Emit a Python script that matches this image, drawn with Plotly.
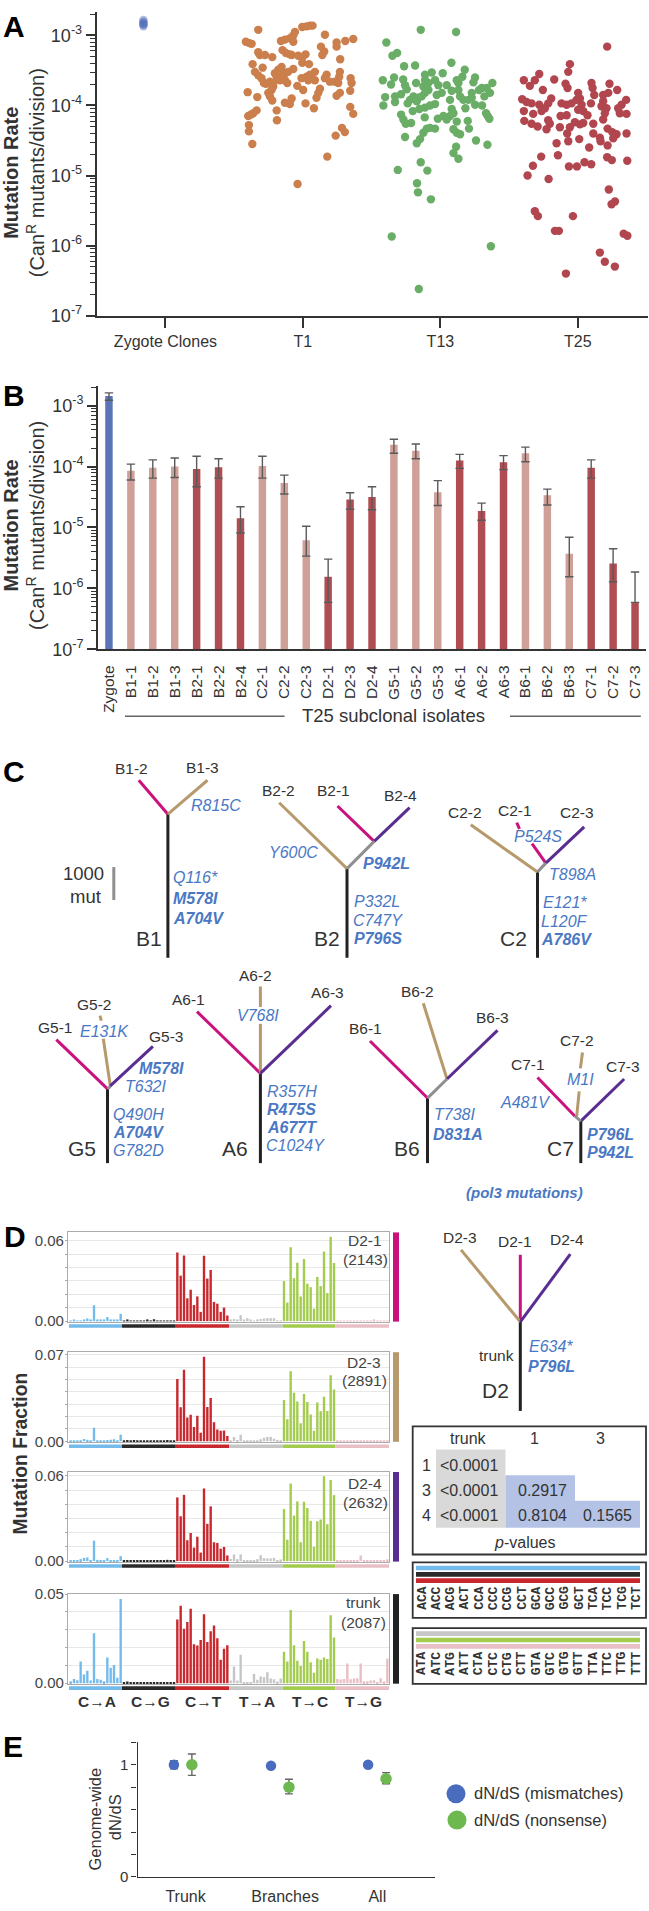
import plotly.graph_objects as go

W, H = 649, 1911
FONT = "Liberation Sans"
INK = "#333333"
BLUE_TXT = "#4A78C4"

# ---------- Panel A data (horizontal jitter about group, log10 mutation rate)
A_groups = ["Zygote Clones", "T1", "T13", "T25"]
zygote_x = [-.16, -.16, -.16, -.16, -.16, -.16, -.16]
zygote_log = [-2.78, -2.80, -2.82, -2.83, -2.84, -2.85, -2.87]
T1_x = [-.005,.027,.051,.070,-.325,-.058,-.070,-.095,-.131,-.160,-.070,.160,.366,.308,.245,.245,-.415,-.390,-.373,.131,.155,.141,-.148,-.124,-.095,-.082,-.034,.019,-.005,-.005,.044,-.325,-.313,-.276,-.223,.271,-.366,-.293,-.349,-.325,-.301,-.284,-.240,-.216,-.269,-.155,-.179,-.204,-.167,-.131,-.155,-.191,-.167,-.131,-.107,-.070,-.114,-.010,.027,.051,.087,.063,.087,.039,.172,.160,.196,.233,.257,.269,.264,.347,.354,.344,-.041,.002,.124,.112,.099,-.216,-.228,-.252,-.240,-.223,-.402,-.332,.269,.245,-.082,-.095,-.131,.019,.080,.344,.366,-.191,-.189,-.337,-.361,-.378,-.398,-.393,-.393,.284,.305,.238,-.368,.177,-.039]
T1_log = [-2.88,-2.87,-2.86,-2.86,-2.92,-2.95,-3.00,-3.04,-3.06,-3.08,-3.09,-2.99,-3.05,-3.08,-3.10,-3.16,-3.09,-3.11,-3.12,-3.16,-3.23,-3.28,-3.21,-3.25,-3.27,-3.28,-3.29,-3.27,-3.32,-3.39,-3.41,-3.24,-3.28,-3.28,-3.31,-3.34,-3.41,-3.46,-3.52,-3.57,-3.61,-3.68,-3.66,-3.68,-3.69,-3.45,-3.49,-3.54,-3.54,-3.54,-3.59,-3.59,-3.64,-3.64,-3.52,-3.48,-3.68,-3.61,-3.59,-3.56,-3.52,-3.61,-3.64,-3.64,-3.56,-3.61,-3.66,-3.66,-3.68,-3.52,-3.59,-3.61,-3.68,-3.79,-3.72,-3.78,-3.76,-3.82,-3.89,-3.73,-3.78,-3.82,-3.87,-3.93,-3.81,-3.88,-3.82,-3.86,-3.90,-3.98,-3.96,-3.97,-4.04,-4.02,-4.12,-4.07,-4.21,-4.07,-4.11,-4.13,-4.15,-4.28,-4.37,-4.32,-4.38,-4.43,-4.55,-4.73,-5.12]
T13_x = [-.143,.114,-.393,-.349,-.315,-.264,-.184,.080,.177,.017,-.063,-.112,-.419,-.337,-.359,-.271,-.257,-.245,-.177,-.112,-.124,-.087,-.039,-.015,.046,.082,.131,.119,.160,.252,.240,.378,.361,.337,.301,.281,.228,.320,.131,.143,.167,.204,.252,.228,.303,.182,.010,-.027,-.087,-.112,-.136,-.160,-.196,-.221,-.172,-.238,-.286,-.330,-.330,-.402,-.415,.070,.082,-.039,-.075,-.112,-.153,-.201,-.286,-.269,-.252,-.213,-.114,-.019,.022,.046,.070,.095,.119,.199,.208,.332,.344,.356,.095,.119,.143,-.039,-.075,-.099,-.124,-.148,-.172,-.257,.259,.342,.114,.095,.131,-.143,-.095,-.310,-.170,-.163,-.069,-.354,.367,-.157]
T13_log = [-2.92,-2.95,-3.10,-3.29,-3.25,-3.44,-3.43,-3.39,-3.49,-3.54,-3.53,-3.56,-3.64,-3.60,-3.70,-3.63,-3.71,-3.77,-3.68,-3.64,-3.73,-3.68,-3.64,-3.71,-3.71,-3.79,-3.68,-3.64,-3.59,-3.60,-3.67,-3.68,-3.82,-3.75,-3.75,-3.78,-3.82,-3.87,-3.78,-3.87,-3.92,-3.92,-3.99,-3.89,-4.00,-4.04,-3.82,-3.85,-3.78,-3.82,-3.87,-3.89,-3.87,-3.92,-3.94,-3.97,-3.84,-3.87,-3.95,-3.88,-4.00,-3.92,-4.05,-3.98,-4.00,-4.03,-4.05,-4.08,-4.13,-4.20,-4.26,-4.25,-4.17,-4.19,-4.15,-4.20,-4.15,-4.11,-4.23,-4.22,-4.33,-4.11,-4.15,-4.19,-4.34,-4.39,-4.41,-4.33,-4.32,-4.33,-4.39,-4.48,-4.54,-4.45,-4.50,-4.56,-4.59,-4.68,-4.76,-4.81,-4.93,-4.92,-5.11,-5.24,-5.34,-5.87,-6.01,-6.62]
T25_x = [.213,-.058,-.070,-.281,-.313,-.393,-.349,-.172,-.255,-.090,-.075,.099,.107,.119,.230,.286,.221,.184,-.194,-.216,-.405,-.373,-.337,-.281,-.240,-.264,-.393,-.325,.002,.015,-.010,-.046,-.082,-.119,.027,.095,.002,.039,.070,.184,.172,.208,.196,.184,.351,.318,.293,.305,.354,-.082,-.126,-.216,-.204,-.228,-.390,-.337,-.293,-.131,-.022,.039,.015,-.058,-.078,-.070,.010,.112,.112,.160,.165,.216,.250,.281,.257,.216,.354,.082,-.155,-.145,-.267,-.327,-.366,-.213,-.065,-.007,.048,.097,.213,.247,.359,.225,.270,.245,-.313,-.291,-.036,-.167,-.138,.333,.360,.160,.196,.269,-.087]
T25_log = [-3.16,-3.41,-3.52,-3.55,-3.64,-3.64,-3.72,-3.63,-3.78,-3.69,-3.75,-3.68,-3.75,-3.85,-3.69,-3.78,-3.82,-3.85,-3.90,-3.97,-3.91,-3.95,-3.97,-3.99,-4.04,-4.08,-4.08,-4.12,-3.82,-3.90,-3.92,-3.97,-3.99,-3.97,-3.99,-3.97,-4.06,-4.08,-4.14,-3.94,-4.01,-4.04,-4.11,-4.20,-3.92,-3.99,-4.04,-4.11,-4.12,-4.14,-4.15,-4.21,-4.26,-4.34,-4.22,-4.26,-4.30,-4.31,-4.24,-4.25,-4.27,-4.31,-4.40,-4.51,-4.48,-4.26,-4.40,-4.46,-4.51,-4.33,-4.38,-4.41,-4.47,-4.57,-4.40,-4.60,-4.54,-4.71,-4.73,-4.86,-5.00,-5.05,-4.87,-4.87,-4.81,-4.84,-4.74,-4.78,-4.79,-5.20,-5.37,-5.41,-5.51,-5.58,-5.58,-5.79,-5.79,-5.83,-5.86,-6.10,-6.23,-6.30,-6.40]

# ---------- Panel B data (log10 mean, upper error, lower error)
B_names = ["Zygote","B1-1","B1-2","B1-3","B2-1","B2-2","B2-4","C2-1","C2-2","C2-3","D2-1","D2-3","D2-4","G5-1","G5-2","G5-3","A6-1","A6-2","A6-3","B6-1","B6-2","B6-3","C7-1","C7-2","C7-3"]
B_log = [-2.84,-4.07,-4.02,-4.00,-4.04,-4.01,-4.85,-3.99,-4.27,-5.21,-5.81,-4.54,-4.50,-3.64,-3.74,-4.42,-3.90,-4.73,-3.93,-3.78,-4.47,-5.43,-4.02,-5.59,-6.23]
B_hi = [-2.79,-3.96,-3.89,-3.86,-3.83,-3.87,-4.66,-3.83,-4.14,-4.98,-5.52,-4.43,-4.33,-3.55,-3.63,-4.23,-3.80,-4.60,-3.82,-3.68,-4.37,-5.16,-3.89,-5.35,-5.73]
B_lo = [-2.91,-4.22,-4.19,-4.18,-4.33,-4.19,-5.09,-4.19,-4.45,-5.47,-6.23,-4.70,-4.71,-3.78,-3.87,-4.64,-4.03,-4.88,-4.05,-3.92,-4.63,-5.81,-4.19,-5.89,-6.23]
B_shade = ["z","l","l","l","d","d","d","l","l","l","d","d","d","l","l","l","d","d","d","l","l","l","d","d","d"]

# ---------- Panel D data (mutation fraction, 96 trinucleotide contexts)
D_classes = ["C→A","C→G","C→T","T→A","T→C","T→G"]
D2_1 = [.0004,.0012,.0004,.0002,.0012,.0020,.0006,.0118,.0012,.0010,.0008,.0030,.0012,.0010,.0010,.0054,
        .0002,.0006,.0001,.0005,.0001,.0001,.0001,.0006,.0001,.0014,.0002,.0004,.0001,.0001,.0001,.0001,
        .0511,.0339,.0489,.0170,.0234,.0120,.0184,.0069,.0487,.0317,.0381,.0143,.0130,.0069,.0101,.0042,
        .0007,.0015,.0007,.0044,.0010,.0022,.0007,.0002,.0010,.0015,.0020,.0022,.0022,.0022,.0005,.0002,
        .0298,.0138,.0551,.0320,.0435,.0184,.0462,.0278,.0253,.0093,.0329,.0261,.0519,.0209,.0629,.0433,
        .0002,.0003,.0002,.0003,.0004,.0003,.0002,.0002,.0002,.0003,.0002,.0010,.0003,.0002,.0001,.0002]
D2_3 = [.0003,.0003,.0003,.0003,.0019,.0013,.0003,.0110,.0003,.0003,.0003,.0011,.0013,.0016,.0008,.0053,
        .0003,.0011,.0002,.0011,.0005,.0002,.0008,.0008,.0002,.0004,.0002,.0008,.0008,.0011,.0005,.0002,
        .0505,.0275,.0580,.0192,.0214,.0115,.0206,.0069,.0684,.0278,.0350,.0155,.0096,.0085,.0088,.0043,
        .0005,.0035,.0011,.0053,.0003,.0003,.0003,.0003,.0005,.0016,.0029,.0035,.0037,.0021,.0011,.0003,
        .0334,.0179,.0566,.0393,.0323,.0147,.0382,.0318,.0216,.0085,.0315,.0243,.0361,.0246,.0534,.0419,
        .0002,.0002,.0002,.0002,.0002,.0003,.0002,.0002,.0002,.0002,.0002,.0002,.0003,.0002,.0002,.0002]
D2_4 = [.0007,.0002,.0002,.0014,.0023,.0026,.0005,.0144,.0009,.0005,.0002,.0021,.0007,.0005,.0002,.0035,
        .0003,.0008,.0002,.0008,.0002,.0006,.0003,.0002,.0002,.0005,.0001,.0005,.0006,.0009,.0002,.0006,
        .0449,.0316,.0467,.0147,.0198,.0095,.0172,.0060,.0512,.0263,.0386,.0133,.0128,.0088,.0100,.0040,
        .0016,.0047,.0014,.0047,.0007,.0005,.0002,.0007,.0014,.0042,.0021,.0019,.0019,.0023,.0007,.0012,
        .0367,.0151,.0547,.0321,.0421,.0133,.0419,.0374,.0284,.0100,.0281,.0293,.0598,.0260,.0572,.0465,
        .0002,.0002,.0002,.0002,.0002,.0002,.0002,.0040,.0003,.0003,.0002,.0005,.0002,.0002,.0002,.0012]
D_trunk = [.0011,.0024,.0017,.0122,.0048,.0070,.0015,.0280,.0024,.0019,.0011,.0144,.0087,.0102,.0030,.0472,
        .0007,.0009,.0002,.0001,.0004,.0001,.0001,.0001,.0001,.0004,.0001,.0004,.0004,.0004,.0001,.0004,
        .0357,.0435,.0306,.0343,.0417,.0219,.0211,.0243,.0387,.0231,.0291,.0324,.0252,.0131,.0193,.0213,
        .0015,.0093,.0015,.0159,.0006,.0006,.0004,.0052,.0019,.0037,.0033,.0061,.0026,.0022,.0009,.0026,
        .0176,.0122,.0411,.0213,.0126,.0096,.0237,.0176,.0117,.0059,.0139,.0131,.0144,.0135,.0381,.0256,
        .0024,.0020,.0024,.0111,.0022,.0026,.0028,.0111,.0011,.0011,.0015,.0017,.0007,.0028,.0009,.0139]
codons_C = ["ACA","ACC","ACG","ACT","CCA","CCC","CCG","CCT","GCA","GCC","GCG","GCT","TCA","TCC","TCG","TCT"]
codons_T = ["ATA","ATC","ATG","ATT","CTA","CTC","CTG","CTT","GTA","GTC","GTG","GTT","TTA","TTC","TTG","TTT"]

# ---------- Panel E data
E_groups = ["Trunk", "Branches", "All"]
E_mismatch = [1.0, .99, 1.0]
E_mismatch_err = [.037, .012, .012]
E_nonsense = [1.0, .80, .875]
E_nonsense_hi = [.095, .07, .055]
E_nonsense_lo = [.095, .06, .045]

# ---------- Styles
C_ORANGE, C_GREEN, C_RED, C_ZYG = "#CB7F4C", "#69AD66", "#B1464F", "#5572BC"
BAR_SHADE = {"z": "#5A75B8", "l": "#CFA097", "d": "#AF4D53"}
BAND = ["#74BBEC", "#2A2A2A", "#C8282D", "#C6C6C6", "#A3CC4F", "#E8BFC5"]
MAG, TAN, PUR, BLK, GRY = "#C9127E", "#B69A6C", "#5A2D91", "#222222", "#8F8F8F"

# Schematic lineage trees of panels C and D, on a page-sized schematic axis
tree_segments = {
    BLK: [(167.9,958.3,167.9,813.3),(347,958.3,347,868.3),(537.5,958.3,537.5,871.7),(107.5,1165.7,107.5,1090.7),
          (260.4,1165.7,260.4,1075),(427.5,1165.7,427.5,1100),(580.8,1165.7,580.8,1123.3),(520.3,1416,520.3,1326)],
    MAG: [(167.9,813.3,138.8,779),(374.2,840.7,337.5,805),(545.8,862.7,532,843),(519.5,828,516.7,821.7),(107.5,1090.7,56.3,1041),
          (260.4,1075,197,1012.7),(427.5,1100,370,1042.3),(575,1118.3,537.5,1079.3),(520.3,1326,520.3,1258.3)],
    TAN: [(167.9,813.3,207.5,779),(347,868.3,279.2,801.7),(537.5,871.7,470.8,824),(110.4,1088.3,103.3,1040),(100,1016.7,101.3,1021.7),
          (260.4,1075,260.4,1025),(260.4,1008,260.4,987.3),(447,1080.7,423.3,1004.3),(576.7,1118.3,579.2,1093.3),(580.4,1070,582.5,1054),
          (520.3,1326,461,1253.3)],
    PUR: [(374.2,840.7,409.6,806.7),(545.8,862.7,584.2,826),(110,1088,152.9,1047.7),(260.4,1075,331,1006.7),(447,1080.7,497.5,1031.7),
          (580.8,1123.3,624.2,1080.7),(520.3,1326,570.3,1257.7)],
    GRY: [(347,868.3,374.2,840.7),(537.5,871.7,545.8,862.7),(107.5,1090.7,110.4,1088.3),(427.5,1100,447,1080.7),(580.8,1123.3,575,1118.3),
          (113.8,866.7,113.8,900)],
}

def px(x): return x / W
def py(y): return 1 - y / H

fig = go.Figure()
annotations, shapes = [], []

def T(x, y, text, size=15.5, color=INK, anchor="center", angle=0, family=FONT):
    annotations.append(dict(x=px(x), y=py(y), xref="paper", yref="paper", text=text, showarrow=False,
                            xanchor=anchor, yanchor="middle", textangle=angle,
                            font=dict(family=family, size=size, color=color)))

def R(x0, y0, x1, y1, fill=None, line=None, lw=0):
    shapes.append(dict(type="rect", xref="paper", yref="paper", x0=px(x0), x1=px(x1), y0=py(y0), y1=py(y1),
                       fillcolor=fill if fill else "rgba(0,0,0,0)", line=dict(color=line if line else "rgba(0,0,0,0)", width=lw), layer="below"))

def L(x0, y0, x1, y1, color, lw):
    shapes.append(dict(type="line", xref="paper", yref="paper", x0=px(x0), x1=px(x1), y0=py(y0), y1=py(y1),
                       line=dict(color=color, width=lw)))

def log_minor(lo, hi):
    return [m * 10.0 ** k for k in range(lo, hi) for m in range(2, 10)]

LOG_TICKS = [1e-7, 1e-6, 1e-5, 1e-4, 1e-3]
LOG_TEXT = ["10<sup>-7</sup>", "10<sup>-6</sup>", "10<sup>-5</sup>", "10<sup>-4</sup>", "10<sup>-3</sup>"]

def log_axis(top_px, bottom_px, top_log, anchor):
    return dict(domain=[py(bottom_px), py(top_px)], type="log", range=[-7, top_log], anchor=anchor,
                showline=True, linecolor=INK, linewidth=2, showgrid=False, zeroline=False,
                tickvals=LOG_TICKS, ticktext=LOG_TEXT, ticks="outside", ticklen=9, tickwidth=2, tickcolor=INK,
                tickfont=dict(family=FONT, size=18, color=INK),
                minor=dict(tickvals=log_minor(-7, -3) + [2e-3], ticks="outside", ticklen=5, tickwidth=1.3, tickcolor=INK, showgrid=False))

# ---------- Panel A
groups_A = [(0, zygote_x, zygote_log, C_ZYG, 0.45), (1, T1_x, T1_log, C_ORANGE, 1), (2, T13_x, T13_log, C_GREEN, 1), (3, T25_x, T25_log, C_RED, 1)]
for g, jit, lg, col, op in groups_A:
    fig.add_trace(go.Scatter(x=[g + j for j in jit], y=[10 ** v for v in lg], mode="markers", xaxis="x", yaxis="y",
                             marker=dict(size=8.4, color=col, opacity=op, line=dict(width=0)), showlegend=False, cliponaxis=False))

# ---------- Panel B
fig.add_trace(go.Bar(x=list(range(len(B_names))), y=[10 ** v for v in B_log], xaxis="x2", yaxis="y2", width=0.34,
                     marker=dict(color=[BAR_SHADE[s] for s in B_shade], line=dict(width=0)), showlegend=False,
                     error_y=dict(type="data", symmetric=False,
                                  array=[10 ** h - 10 ** v for h, v in zip(B_hi, B_log)],
                                  arrayminus=[10 ** v - 10 ** l for v, l in zip(B_log, B_lo)],
                                  color="#5A5A5A", thickness=1.4, width=4.2)))

# ---------- Panel D
D_panels = [
    (D2_1, 3, 1235.7, 1326.3, -.00074, .0661, .06, "0.06", ["D2-1", "(2143)"], [(365, 1244.3), (365.7, 1263.3)], MAG),
    (D2_3, 4, 1356.7, 1447.7, -.0008, .0721, .07, "0.07", ["D2-3", "(2891)"], [(364, 1366.7), (364, 1385.7)], TAN),
    (D2_4, 5, 1477.7, 1568.7, -.0007, .0628, .06, "0.06", ["D2-4", "(2632)"], [(365, 1489.3), (365.7, 1508.3)], PUR),
    (D_trunk, 6, 1601, 1692, -.00056, .05, .05, "0.05", ["trunk", "(2087)"], [(363.3, 1610), (363.3, 1629.3)], BLK),
]
band_edges = [69, 122, 175, 229, 282.7, 335.3, 389]
layout_axes = {}
for vals, n, top, bot, ymin, ymax, tv, tt, labs, pos, side in D_panels:
    colors = [BAND[i // 16] for i in range(96)]
    fig.add_trace(go.Bar(x=list(range(96)), y=vals, xaxis=f"x{n}", yaxis=f"y{n}", width=0.72,
                         marker=dict(color=colors, line=dict(width=0)), showlegend=False))
    layout_axes[f"xaxis{n}"] = dict(domain=[px(68), px(389)], range=[-0.8, 95.5], anchor=f"y{n}", showticklabels=False,
                                    ticks="", showgrid=False, zeroline=False, showline=True, mirror=True,
                                    linecolor="#ABABAB", linewidth=1.2)
    layout_axes[f"yaxis{n}"] = dict(domain=[py(bot), py(top)], range=[ymin, ymax], anchor=f"x{n}", tickvals=[0, tv], ticktext=["0.00", tt],
                                    ticks="", showgrid=False, zeroline=False, showline=True, mirror=True,
                                    linecolor="#ABABAB", linewidth=1.2,
                                    tickfont=dict(family=FONT, size=15, color="#444444"),
                                    minor=dict(dtick=.01, tick0=0, showgrid=True, gridcolor="#E8E8E8", gridwidth=1, ticks="outside", ticklen=2, tickcolor="#ABABAB"))
    for i in range(6):
        R(band_edges[i], bot + 2.2, band_edges[i + 1], bot + 5.8, fill=BAND[i])
    R(393, top, 399, bot - 0.5, fill=side)
    for lab, (lx, ly) in zip(labs, pos):
        T(lx, ly, lab, 15.5, "#444444")
for i, c in enumerate(D_classes):
    T(96.7 + 53.33 * i, 1710, f"<b>{c}</b>", 15.5, INK)

# ---------- Panel E
E_x = list(range(len(E_groups)))
fig.add_trace(go.Scatter(x=[x - .095 for x in E_x], y=E_mismatch, mode="markers", xaxis="x7", yaxis="y7", showlegend=False,
                         marker=dict(size=10.5, color="#4A6CBF"),
                         error_y=dict(type="data", array=E_mismatch_err, color="#666666", thickness=1.4, width=4)))
fig.add_trace(go.Scatter(x=[x + .09 for x in E_x], y=E_nonsense, mode="markers", xaxis="x7", yaxis="y7", showlegend=False,
                         marker=dict(size=11.5, color="#6DB84F"),
                         error_y=dict(type="data", symmetric=False, array=E_nonsense_hi, arrayminus=E_nonsense_lo, color="#666666", thickness=1.4, width=4)))

# ---------- Schematic overlays (trees, legend markers of panel E)
for col, segs in tree_segments.items():
    xs, ys = [], []
    for x0, y0, x1, y1 in segs:
        xs += [x0, x1, None]
        ys += [y0, y1, None]
    fig.add_trace(go.Scatter(x=xs, y=ys, mode="lines", xaxis="x8", yaxis="y8", showlegend=False, connectgaps=False,
                             line=dict(color=col, width=3)))
fig.add_trace(go.Scatter(x=[456, 457], y=[1802.7, 1829.3], mode="markers", xaxis="x8", yaxis="y8", showlegend=False,
                         marker=dict(size=19, color=["#4A6CBF", "#6DB84F"])))

# ---------- Text: panel letters
for letter, lx, ly in [("A", 14, 18), ("B", 14, 390), ("C", 14, 770), ("D", 15, 1240), ("E", 13, 1755)]:
    T(lx, ly, f"<b>{letter}</b>", 30, "#000000")

# ---------- Text: y titles
for cy in (165.5, 521.7):
    T(11, cy, "<b>Mutation Rate</b>", 20, INK, angle=-90)
    T(35.4, cy, "(Can<sup>R</sup> mutants/division)", 20, INK, angle=-90)
T(20, 1459, "<b>Mutation Fraction</b>", 19.3, INK, angle=-90)
T(95, 1828.7, "Genome-wide", 16.5, INK, angle=-90)
T(114.6, 1826.7, "dN/dS", 16.5, INK, angle=-90)

# ---------- Text: panel B footer
T(393.8, 713.3, "T25 subclonal isolates", 18.5, INK)
L(125, 714.3, 284.6, 714.3, "#666666", 1.6)
L(510, 714.3, 640.8, 714.3, "#666666", 1.6)

# ---------- Text: panel C + D trees
black_labels = [("B1-2",131.7,766.7),("B1-3",202.5,766),("B2-2",278,789.3),("B2-1",333,789.3),("B2-4",400,794),
    ("C2-2",465.4,811.3),("C2-1",515,809.3),("C2-3",577,812),("G5-1",55.4,1028.7),("G5-2",93.8,1005),("G5-3",165.8,1038.3),
    ("A6-1",188.3,1000.3),("A6-2",255.4,976),("A6-3",327,993.7),("B6-1",365,1030),("B6-2",418,992),("B6-3",492.5,1018.3),
    ("C7-1",528.3,1066.3),("C7-2",576.7,1042.3),("C7-3",623.3,1068),("D2-3",460.3,1241.3),("D2-1",515,1245),("D2-4",567.3,1243.3),("trunk",496.3,1360)]
for t, x, y in black_labels:
    T(x, y, t, 15.5, INK)
clone_labels = [("B1",148.8,939.3),("B2",327,939.3),("C2",513,939.3),("G5",81.7,1150.7),("A6",234.6,1150.7),("B6",407,1150.7),("C7",560.4,1150.7),("D2",495.7,1395)]
for t, x, y in clone_labels:
    T(x, y, t, 21, INK)
T(83.3, 872.7, "1000", 18.5, INK)
T(85.4, 896, "mut", 18.5, INK)
mut_italic = [("R815C",216,805),("Q116*",195,877.3),("Y600C",293.8,851.7),("P332L",377,901.7),("C747Y",378.3,920.7),
    ("P524S",537.5,836),("T898A",572,873.7),("E121*",565,902.7),("L120F",564,921.3),("E131K",104.6,1033),("T632I",145.8,1088.3),
    ("Q490H",138.3,1116.7),("G782D",138.3,1152.7),("V768I",257.5,1016.7),("R357H",291.7,1093.3),("C1024Y",295.8,1147.7),
    ("T738I",454,1117),("A481V",525,1104),("M1I",580,1081.7),("E634*",551.3,1350.7)]
for t, x, y in mut_italic:
    T(x, y, f"<i>{t}</i>", 16, BLUE_TXT)
mut_bold = [("M578I",195,898),("A704V",198,918.3),("P942L",386.7,862.7),("P796S",377.5,938.7),("A786V",566.7,940),
    ("M578I",161.7,1070),("A704V",138,1134.7),("R475S",291.7,1111.7),("A677T",291.7,1129.7),("D831A",457.5,1136.7),
    ("P796L",610.8,1137),("P942L",610.8,1155.3),("P796L",551.3,1371)]
for t, x, y in mut_bold:
    T(x, y, f"<b><i>{t}</i></b>", 16, BLUE_TXT)
T(524, 1195.3, "<b><i>(pol3 mutations)</i></b>", 15, BLUE_TXT)

# ---------- p-value table
R(412.7, 1431.7, 646, 1561, line="#333333", lw=1.8)
R(436, 1455, 505.5, 1534, fill="#D9D9D9")
R(505.5, 1481, 575, 1534, fill="#B4C3E5")
R(575, 1506.7, 640, 1534, fill="#B4C3E5")
table_cols = ["trunk", "1", "3"]
table_rows = ["1", "3", "4"]
p_values = [["<0.0001", "", ""], ["<0.0001", "0.2917", ""], ["<0.0001", "0.8104", "0.1565"]]
for t, x in zip(table_cols, [468.3, 534, 600.3]):
    T(x, 1444, t, 16, INK)
for ri, (t, y) in enumerate(zip(table_rows, [1470.7, 1496.7, 1521.7])):
    T(426.7, y, t, 16, INK)
    for ci, x in enumerate([469.3, 542.3, 607.7]):
        if p_values[ri][ci]:
            T(x, y, p_values[ri][ci].replace("<", "&lt;"), 16, INK)
T(524, 1549, "<i>p</i>-values", 16, INK)

# ---------- Codon keys
for top, bot, cols, codons, cy in [(1569, 1625, BAND[:3], codons_C, 1605), (1635.3, 1691.7, BAND[3:], codons_T, 1671)]:
    R(412.7, top, 646, bot, line="#333333", lw=1.8)
    for i, c in enumerate(cols):
        R(416, top + 3.3 + 6.4 * i, 640, top + 8 + 6.4 * i, fill=c)
    for i, cod in enumerate(codons):
        T(421.7 + 14.28 * i, cy, f"<b>{cod}</b>", 13, INK, angle=-90, family="Liberation Mono")

# ---------- Panel E legend text
T(472, 1801.7, "dN/dS (mismatches)", 16.5, INK, anchor="left")
T(472, 1829, "dN/dS (nonsense)", 16.5, INK, anchor="left")

# ---------- Layout
fig.update_layout(
    width=W, height=H, autosize=False, margin=dict(l=0, r=0, t=0, b=0), paper_bgcolor="white", plot_bgcolor="rgba(0,0,0,0)",
    font=dict(family=FONT, color=INK), bargap=0.3, showlegend=False, annotations=annotations, shapes=shapes,
    xaxis=dict(domain=[px(96.7), px(648)], range=[-0.5, 3.51], anchor="y", tickvals=[0, 1, 2, 3], ticktext=A_groups,
               ticks="outside", ticklen=10, tickwidth=2, tickcolor=INK, showline=True, linecolor=INK, linewidth=2,
               showgrid=False, zeroline=False, tickfont=dict(family=FONT, size=16, color=INK)),
    yaxis=log_axis(3, 309.7, -2.665, "x"),
    xaxis2=dict(domain=[px(98), px(646)], range=[-0.5, 24.5], anchor="y2", tickvals=list(range(len(B_names))), ticktext=B_names,
                tickangle=-90, ticks="outside", ticklen=8, tickcolor="rgba(0,0,0,0)", showline=True, linecolor=INK, linewidth=2,
                showgrid=False, zeroline=False, tickfont=dict(family=FONT, size=15.5, color=INK)),
    yaxis2=log_axis(380.7, 646.7, -2.675, "x2"),
    xaxis7=dict(domain=[px(137.5), px(434.6)], range=[-0.47, 2.59], anchor="y7", tickvals=[0.025, 1.05, 2.0], ticktext=E_groups,
                ticks="outside", ticklen=5, tickcolor="rgba(0,0,0,0)", showline=True, linecolor=INK, linewidth=1.3,
                showgrid=False, zeroline=False, tickfont=dict(family=FONT, size=16, color=INK)),
    yaxis7=dict(domain=[py(1886.7), py(1750.7)], range=[0, 1.2], anchor="x7", tickvals=[0, 1], ticktext=["0", "1"],
                ticks="outside", ticklen=5, tickwidth=1.3, tickcolor=INK, showline=True, linecolor=INK, linewidth=1.3,
                showgrid=False, zeroline=False, tickfont=dict(family=FONT, size=15, color=INK),
                minor=dict(tickvals=[.2, .4, .6, .8, 1.2], ticks="outside", ticklen=5, tickwidth=1.3, tickcolor=INK)),
    xaxis8=dict(domain=[0, 1], range=[0, W], anchor="y8", visible=False, fixedrange=True),
    yaxis8=dict(domain=[0, 1], range=[H, 0], anchor="x8", visible=False, fixedrange=True),
    **layout_axes,
)

fig.write_html("out.html", config={"displayModeBar": False},
               post_script="document.body.style.margin='0';document.body.style.overflow='hidden';")
